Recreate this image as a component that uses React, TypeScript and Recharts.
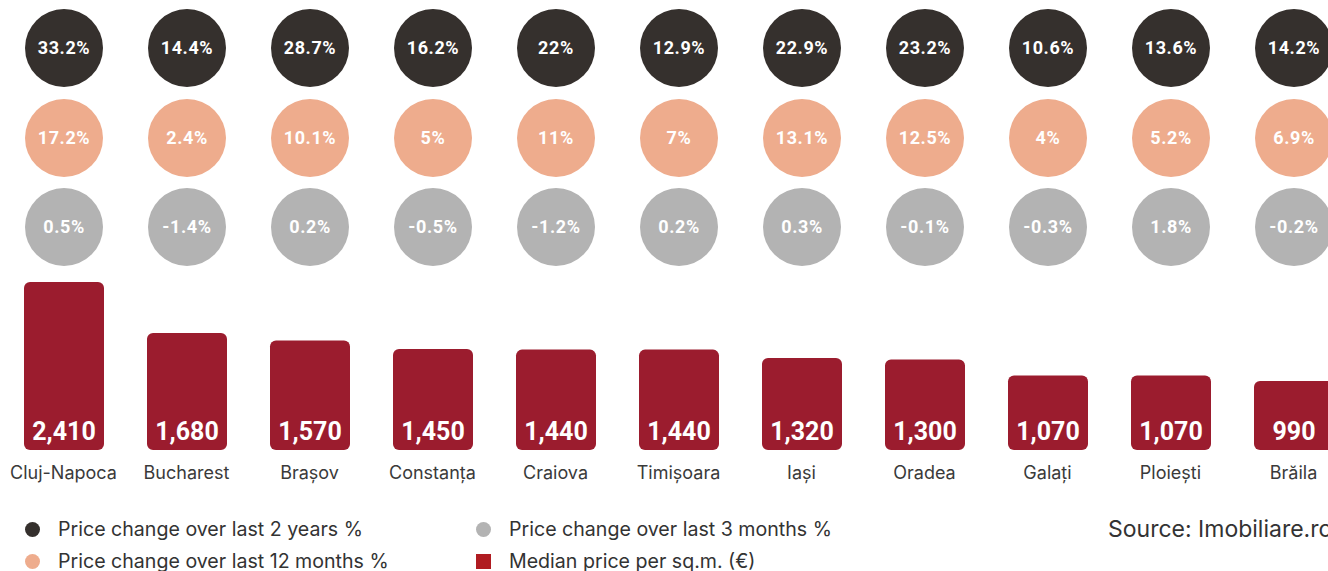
import { ComposedChart, Bar, XAxis, YAxis, LabelList, Legend } from "recharts"

const cities = [
  "Cluj-Napoca", "Bucharest", "Brașov", "Constanța", "Craiova", "Timișoara",
  "Iași", "Oradea", "Galați", "Ploiești", "Brăila",
]
const medianPrice = [2410, 1680, 1570, 1450, 1440, 1440, 1320, 1300, 1070, 1070, 990]
const change2y = [33.2, 14.4, 28.7, 16.2, 22, 12.9, 22.9, 23.2, 10.6, 13.6, 14.2]
const change12m = [17.2, 2.4, 10.1, 5, 11, 7, 13.1, 12.5, 4, 5.2, 6.9]
const change3m = [0.5, -1.4, 0.2, -0.5, -1.2, 0.2, 0.3, -0.1, -0.3, 1.8, -0.2]

const legendItems = [
  { name: "Price change over last 2 years %", color: "#35302d", shape: "circle" },
  { name: "Price change over last 3 months %", color: "#b3b3b3", shape: "circle" },
  { name: "Price change over last 12 months %", color: "#eeac8d", shape: "circle" },
  { name: "Median price per sq.m. (€)", color: "#b01c21", shape: "square" },
]

const data = cities.map((city, i) => ({
  city,
  price: medianPrice[i],
  y2: change2y[i],
  m12: change12m[i],
  m3: change3m[i],
}))

const numFont = "Roboto, 'DejaVu Sans', sans-serif"
const textFont = "Inter, 'Noto Sans', sans-serif"

function bubble(cy: number, fill: string) {
  return (props: any) => {
    const { x, width, value } = props
    const cx = Number(x) + Number(width) / 2
    return (
      <g>
        <circle cx={cx} cy={cy} r={39} fill={fill} />
        <text
          x={cx}
          y={cy}
          dy="0.36em"
          textAnchor="middle"
          fill="#ffffff"
          fontFamily={numFont}
          fontWeight={700}
          fontSize={18}
          letterSpacing={0.6}
        >
          {`${value}%`}
        </text>
      </g>
    )
  }
}

function LegendBox() {
  return (
    <div style={{ position: "relative", width: 1328, height: 60, fontFamily: textFont, color: "#333" }}>
      {legendItems.map((it, i) => {
        const col = i % 2
        const row = Math.floor(i / 2)
        return (
          <div
            key={it.name}
            style={{
              position: "absolute",
              left: col === 0 ? 25 : 476,
              top: row * 32,
              display: "flex",
              alignItems: "center",
              height: 32,
              fontSize: 19.6,
              whiteSpace: "nowrap",
            }}
          >
            <span
              style={{
                display: "inline-block",
                width: 15,
                height: 15,
                borderRadius: it.shape === "circle" ? "50%" : 0,
                background: it.color,
                marginRight: 18,
              }}
            />
            {it.name}
          </div>
        )
      })}
      <div
        style={{
          position: "absolute",
          left: 1108,
          top: 0,
          height: 32,
          lineHeight: "32px",
          fontSize: 23,
          whiteSpace: "nowrap",
        }}
      >
        Source: Imobiliare.ro
      </div>
    </div>
  )
}

export default function App() {
  return (
    <div style={{ width: 1328, height: 571, overflow: "hidden", position: "relative", background: "#fff" }}>
      <style>{"body{margin:0}"}</style>
      <ComposedChart
        width={1356}
        height={571}
        data={data}
        margin={{ top: 282, right: 1, left: 2, bottom: 31 }}
      >
        <XAxis
          dataKey="city"
          axisLine={false}
          tickLine={false}
          interval={0}
          tickMargin={10}
          tick={{ fontSize: 18, fill: "#3a3a3a", fontFamily: textFont }}
        />
        <YAxis hide domain={[0, "dataMax"]} />
        <Legend
          content={() => <LegendBox />}
          wrapperStyle={{ position: "absolute", top: 513, left: 0, width: 1328, height: 60 }}
        />
        <Bar dataKey="price" fill="#9b1c2e" barSize={80} radius={6} isAnimationActive={false}>
          <LabelList
            dataKey="price"
            position="insideBottom"
            offset={10}
            fill="#ffffff"
            fontSize={25}
            fontWeight={700}
            fontFamily={numFont}
            formatter={(v: any) => Number(v).toLocaleString("en-US")}
          />
          <LabelList dataKey="y2" content={bubble(48, "#35302d")} />
          <LabelList dataKey="m12" content={bubble(138, "#eeac8d")} />
          <LabelList dataKey="m3" content={bubble(227, "#b3b3b3")} />
        </Bar>
      </ComposedChart>
    </div>
  )
}
